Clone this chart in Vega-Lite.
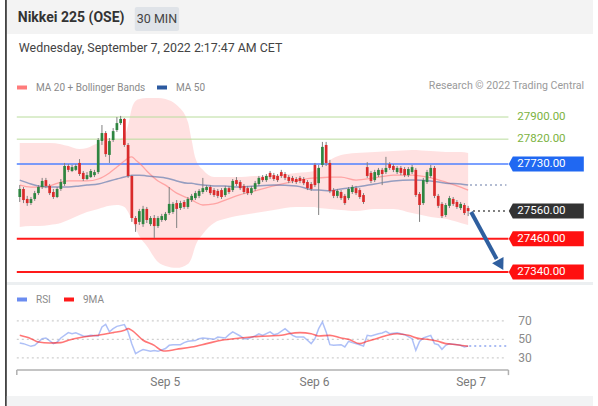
{
"$schema": "https://vega.github.io/schema/vega-lite/v6.json",
"width": 598, "height": 406,
"autosize": {"type": "none"},
"padding": 0,
"background": "white",
"config": {"view": {"stroke": null}, "font": "Roboto"},
"data": {"values": [{}]},
"datasets": {
"candles": [
{"i":0,"o":27611,"h":27654,"l":27593,"c":27640},{"i":1,"o":27640,"h":27647,"l":27589,"c":27600},{"i":2,"o":27604,"h":27615,"l":27579,"c":27589},{"i":3,"o":27589,"h":27611,"l":27582,"c":27604},{"i":4,"o":27604,"h":27633,"l":27597,"c":27625},{"i":5,"o":27625,"h":27654,"l":27618,"c":27647},{"i":6,"o":27647,"h":27680,"l":27640,"c":27669},{"i":7,"o":27672,"h":27680,"l":27643,"c":27651},{"i":8,"o":27651,"h":27658,"l":27618,"c":27625},{"i":9,"o":27629,"h":27640,"l":27604,"c":27611},
{"i":10,"o":27611,"h":27647,"l":27607,"c":27640},{"i":11,"o":27640,"h":27676,"l":27633,"c":27665},{"i":12,"o":27658,"h":27734,"l":27651,"c":27723},{"i":13,"o":27723,"h":27730,"l":27701,"c":27709},{"i":14,"o":27705,"h":27727,"l":27701,"c":27719},{"i":15,"o":27709,"h":27730,"l":27705,"c":27723},{"i":16,"o":27734,"h":27748,"l":27687,"c":27694},{"i":17,"o":27698,"h":27705,"l":27669,"c":27676},{"i":18,"o":27676,"h":27701,"l":27672,"c":27690},{"i":19,"o":27683,"h":27712,"l":27680,"c":27705},
{"i":20,"o":27690,"h":27709,"l":27683,"c":27701},{"i":21,"o":27701,"h":27824,"l":27694,"c":27817},{"i":22,"o":27813,"h":27871,"l":27799,"c":27842},{"i":23,"o":27842,"h":27849,"l":27756,"c":27766},{"i":24,"o":27763,"h":27824,"l":27734,"c":27813},{"i":25,"o":27817,"h":27860,"l":27810,"c":27849},{"i":26,"o":27853,"h":27900,"l":27846,"c":27878},{"i":27,"o":27878,"h":27904,"l":27871,"c":27893},{"i":28,"o":27893,"h":27896,"l":27792,"c":27799},{"i":29,"o":27799,"h":27806,"l":27680,"c":27687},
{"i":30,"o":27687,"h":27690,"l":27521,"c":27535},{"i":31,"o":27535,"h":27542,"l":27485,"c":27513},{"i":32,"o":27521,"h":27568,"l":27510,"c":27560},{"i":33,"o":27513,"h":27579,"l":27503,"c":27568},{"i":34,"o":27568,"h":27575,"l":27517,"c":27528},{"i":35,"o":27513,"h":27542,"l":27506,"c":27535},{"i":36,"o":27535,"h":27546,"l":27463,"c":27506},{"i":37,"o":27506,"h":27542,"l":27499,"c":27535},{"i":38,"o":27528,"h":27550,"l":27521,"c":27542},{"i":39,"o":27528,"h":27557,"l":27524,"c":27550},
{"i":40,"o":27553,"h":27647,"l":27546,"c":27586},{"i":41,"o":27557,"h":27593,"l":27550,"c":27586},{"i":42,"o":27589,"h":27600,"l":27499,"c":27568},{"i":43,"o":27571,"h":27597,"l":27564,"c":27589},{"i":44,"o":27593,"h":27600,"l":27568,"c":27575},{"i":45,"o":27575,"h":27611,"l":27568,"c":27604},{"i":46,"o":27600,"h":27622,"l":27593,"c":27615},{"i":47,"o":27607,"h":27633,"l":27600,"c":27625},{"i":48,"o":27615,"h":27640,"l":27607,"c":27633},{"i":49,"o":27629,"h":27680,"l":27622,"c":27643},
{"i":50,"o":27636,"h":27654,"l":27629,"c":27647},{"i":51,"o":27647,"h":27654,"l":27618,"c":27625},{"i":52,"o":27636,"h":27643,"l":27611,"c":27618},{"i":53,"o":27633,"h":27640,"l":27607,"c":27615},{"i":54,"o":27636,"h":27643,"l":27604,"c":27611},{"i":55,"o":27618,"h":27651,"l":27611,"c":27643},{"i":56,"o":27643,"h":27651,"l":27622,"c":27629},{"i":57,"o":27636,"h":27676,"l":27629,"c":27669},{"i":58,"o":27672,"h":27683,"l":27651,"c":27658},{"i":59,"o":27665,"h":27672,"l":27636,"c":27643},
{"i":60,"o":27651,"h":27658,"l":27622,"c":27629},{"i":61,"o":27643,"h":27651,"l":27618,"c":27625},{"i":62,"o":27625,"h":27651,"l":27618,"c":27643},{"i":63,"o":27640,"h":27669,"l":27633,"c":27661},{"i":64,"o":27658,"h":27687,"l":27651,"c":27680},{"i":65,"o":27683,"h":27690,"l":27665,"c":27672},{"i":66,"o":27672,"h":27694,"l":27665,"c":27687},{"i":67,"o":27698,"h":27705,"l":27676,"c":27683},{"i":68,"o":27690,"h":27698,"l":27669,"c":27676},{"i":69,"o":27687,"h":27694,"l":27665,"c":27672},
{"i":70,"o":27701,"h":27709,"l":27680,"c":27687},{"i":71,"o":27694,"h":27701,"l":27672,"c":27680},{"i":72,"o":27683,"h":27690,"l":27661,"c":27669},{"i":73,"o":27680,"h":27687,"l":27661,"c":27669},{"i":74,"o":27676,"h":27683,"l":27658,"c":27665},{"i":75,"o":27680,"h":27687,"l":27661,"c":27669},{"i":76,"o":27676,"h":27683,"l":27654,"c":27661},{"i":77,"o":27665,"h":27672,"l":27636,"c":27643},{"i":78,"o":27658,"h":27665,"l":27633,"c":27640},{"i":79,"o":27727,"h":27734,"l":27647,"c":27654},
{"i":80,"o":27661,"h":27727,"l":27546,"c":27716},{"i":81,"o":27727,"h":27810,"l":27719,"c":27792},{"i":82,"o":27799,"h":27810,"l":27723,"c":27734},{"i":83,"o":27734,"h":27745,"l":27625,"c":27633},{"i":84,"o":27636,"h":27643,"l":27607,"c":27615},{"i":85,"o":27615,"h":27640,"l":27607,"c":27633},{"i":86,"o":27629,"h":27636,"l":27600,"c":27607},{"i":87,"o":27615,"h":27622,"l":27582,"c":27589},{"i":88,"o":27607,"h":27647,"l":27600,"c":27640},{"i":89,"o":27629,"h":27654,"l":27622,"c":27647},
{"i":90,"o":27643,"h":27651,"l":27618,"c":27625},{"i":91,"o":27636,"h":27643,"l":27604,"c":27611},{"i":92,"o":27618,"h":27625,"l":27586,"c":27593},{"i":93,"o":27719,"h":27737,"l":27680,"c":27687},{"i":94,"o":27698,"h":27705,"l":27661,"c":27669},{"i":95,"o":27672,"h":27709,"l":27665,"c":27701},{"i":96,"o":27690,"h":27716,"l":27683,"c":27709},{"i":97,"o":27709,"h":27716,"l":27654,"c":27694},{"i":98,"o":27701,"h":27756,"l":27694,"c":27716},{"i":99,"o":27730,"h":27737,"l":27709,"c":27716},
{"i":100,"o":27723,"h":27730,"l":27701,"c":27709},{"i":101,"o":27701,"h":27723,"l":27694,"c":27716},{"i":102,"o":27716,"h":27723,"l":27690,"c":27698},{"i":103,"o":27712,"h":27719,"l":27683,"c":27690},{"i":104,"o":27690,"h":27719,"l":27683,"c":27712},{"i":105,"o":27701,"h":27727,"l":27694,"c":27719},{"i":106,"o":27709,"h":27716,"l":27611,"c":27618},{"i":107,"o":27622,"h":27629,"l":27521,"c":27582},{"i":108,"o":27589,"h":27680,"l":27582,"c":27672},{"i":109,"o":27665,"h":27709,"l":27658,"c":27701},
{"i":110,"o":27687,"h":27727,"l":27680,"c":27716},{"i":111,"o":27716,"h":27723,"l":27607,"c":27615},{"i":112,"o":27615,"h":27622,"l":27571,"c":27579},{"i":113,"o":27586,"h":27593,"l":27535,"c":27542},{"i":114,"o":27546,"h":27589,"l":27539,"c":27582},{"i":115,"o":27579,"h":27615,"l":27571,"c":27607},{"i":116,"o":27604,"h":27611,"l":27579,"c":27586},{"i":117,"o":27593,"h":27600,"l":27568,"c":27575},{"i":118,"o":27571,"h":27593,"l":27564,"c":27586},{"i":119,"o":27582,"h":27589,"l":27546,"c":27553},
{"i":120,"o":27571,"h":27579,"l":27542,"c":27560}
],
"bands": [
{"i":0,"up":27806,"lo":27503,"ma20":27654,"ma50":27672},{"i":3,"up":27806,"lo":27506,"ma20":27647,"ma50":27658},{"i":5,"up":27806,"lo":27506,"ma20":27647,"ma50":27651},{"i":8,"up":27806,"lo":27510,"ma20":27651,"ma50":27647},{"i":11,"up":27802,"lo":27517,"ma20":27665,"ma50":27647},{"i":13,"up":27795,"lo":27528,"ma20":27669,"ma50":27647},{"i":16,"up":27784,"lo":27546,"ma20":27669,"ma50":27651},{"i":18,"up":27788,"lo":27557,"ma20":27669,"ma50":27654},{"i":21,"up":27806,"lo":27568,"ma20":27676,"ma50":27658},{"i":24,"up":27817,"lo":27579,"ma20":27698,"ma50":27669},
{"i":26,"up":27817,"lo":27582,"ma20":27719,"ma50":27676},{"i":28,"up":27831,"lo":27575,"ma20":27741,"ma50":27683},{"i":29,"up":27871,"lo":27557,"ma20":27752,"ma50":27687},{"i":30,"up":27932,"lo":27528,"ma20":27756,"ma50":27690},{"i":31,"up":27958,"lo":27499,"ma20":27745,"ma50":27690},{"i":32,"up":27965,"lo":27470,"ma20":27734,"ma50":27690},{"i":34,"up":27969,"lo":27434,"ma20":27705,"ma50":27687},{"i":37,"up":27969,"lo":27376,"ma20":27669,"ma50":27683},{"i":39,"up":27965,"lo":27362,"ma20":27654,"ma50":27680},{"i":42,"up":27943,"lo":27355,"ma20":27625,"ma50":27669},
{"i":45,"up":27882,"lo":27369,"ma20":27607,"ma50":27661},{"i":46,"up":27817,"lo":27391,"ma20":27600,"ma50":27661},{"i":47,"up":27752,"lo":27434,"ma20":27593,"ma50":27658},{"i":49,"up":27709,"lo":27477,"ma20":27582,"ma50":27654},{"i":52,"up":27683,"lo":27517,"ma20":27586,"ma50":27651},{"i":55,"up":27683,"lo":27532,"ma20":27600,"ma50":27651},{"i":58,"up":27683,"lo":27542,"ma20":27615,"ma50":27647},{"i":63,"up":27687,"lo":27553,"ma20":27633,"ma50":27651},{"i":68,"up":27690,"lo":27564,"ma20":27651,"ma50":27654},{"i":74,"up":27698,"lo":27575,"ma20":27669,"ma50":27651},
{"i":79,"up":27705,"lo":27575,"ma20":27680,"ma50":27636},{"i":80,"up":27716,"lo":27571,"ma20":27680,"ma50":27636},{"i":83,"up":27745,"lo":27568,"ma20":27683,"ma50":27633},{"i":86,"up":27763,"lo":27564,"ma20":27683,"ma50":27640},{"i":90,"up":27770,"lo":27560,"ma20":27672,"ma50":27647},{"i":95,"up":27774,"lo":27568,"ma20":27680,"ma50":27658},{"i":100,"up":27777,"lo":27568,"ma20":27690,"ma50":27669},{"i":105,"up":27781,"lo":27553,"ma20":27690,"ma50":27672},{"i":110,"up":27777,"lo":27539,"ma20":27680,"ma50":27669},{"i":114,"up":27774,"lo":27532,"ma20":27665,"ma50":27661},
{"i":118,"up":27774,"lo":27517,"ma20":27647,"ma50":27658},{"i":120,"up":27770,"lo":27510,"ma20":27636,"ma50":27654}
],
"levels": [
{"level":27900,"label":"27900.00","kind":"target"},{"level":27820,"label":"27820.00","kind":"target"},{"level":27730,"label":"27730.00","kind":"resistance"},{"level":27560,"label":"27560.00","kind":"last"},{"level":27460,"label":"27460.00","kind":"support"},{"level":27340,"label":"27340.00","kind":"support"}
],
"rsi": [
{"i":0,"v":46},{"i":1,"v":45.3},{"i":3,"v":42.4},{"i":4,"v":43.5},{"i":6,"v":50.7},{"i":7,"v":51.4},{"i":9,"v":45.3},{"i":10,"v":47},{"i":11,"v":51.4},{"i":13,"v":57.2},{"i":14,"v":56},{"i":15,"v":57},{"i":17,"v":53.6},{"i":18,"v":53.2},{"i":19,"v":54.3},{"i":21,"v":53.6},{"i":22,"v":63.3},{"i":23,"v":66.2},{"i":24,"v":58},{"i":25,"v":61.5},{"i":26,"v":64},{"i":28,"v":65.9},{"i":29,"v":58},{"i":30,"v":45},{"i":31,"v":34.5},{"i":32,"v":37},{"i":33,"v":39},{"i":35,"v":37},{"i":36,"v":38},{"i":37,"v":37},{"i":39,"v":40},{"i":40,"v":43.5},{"i":41,"v":44.2},{"i":43,"v":44.2},{"i":44,"v":46.4},{"i":45,"v":47.8},{"i":47,"v":48.6},{"i":48,"v":50.7},{"i":49,"v":51.4},{"i":51,"v":50.7},{"i":52,"v":50},{"i":53,"v":52.5},{"i":55,"v":51.4},{"i":56,"v":55},{"i":57,"v":58},{"i":59,"v":53.6},{"i":60,"v":50.7},{"i":61,"v":50.7},{"i":63,"v":53.6},{"i":64,"v":56},{"i":65,"v":54.3},{"i":67,"v":58},{"i":68,"v":55},{"i":69,"v":56},{"i":71,"v":61.5},{"i":72,"v":58},{"i":73,"v":54.3},{"i":74,"v":52.5},{"i":76,"v":52.5},{"i":77,"v":49},{"i":78,"v":45.3},{"i":79,"v":50.7},{"i":80,"v":61.5},{"i":81,"v":68.7},{"i":82,"v":58},{"i":83,"v":44.2},{"i":84,"v":43.5},{"i":86,"v":44.2},{"i":87,"v":41.7},{"i":88,"v":47.8},{"i":89,"v":46.4},{"i":91,"v":44.2},{"i":92,"v":42.8},{"i":93,"v":54.3},{"i":94,"v":53.6},{"i":96,"v":56},{"i":97,"v":56.8},{"i":98,"v":58.6},{"i":99,"v":56},{"i":101,"v":57.2},{"i":102,"v":56},{"i":103,"v":55},{"i":105,"v":50.7},{"i":106,"v":38},{"i":107,"v":47.8},{"i":108,"v":51.4},{"i":110,"v":54.3},{"i":111,"v":45.3},{"i":112,"v":44.2},{"i":113,"v":39.2},{"i":114,"v":43.5},{"i":115,"v":45.3},{"i":117,"v":44.2},{"i":118,"v":43.5},{"i":119,"v":41.7},{"i":120,"v":42.8}
],
"ma9": [
{"i":0,"v":54.3},{"i":3,"v":50.7},{"i":5,"v":47},{"i":8,"v":46},{"i":11,"v":46.4},{"i":13,"v":49},{"i":17,"v":52.5},{"i":21,"v":54.3},{"i":25,"v":57.2},{"i":28,"v":59.7},{"i":29,"v":61.5},{"i":30,"v":59.7},{"i":33,"v":49},{"i":36,"v":43.5},{"i":38,"v":38},{"i":39,"v":37.4},{"i":42,"v":39.2},{"i":46,"v":41.7},{"i":50,"v":45.3},{"i":54,"v":49},{"i":59,"v":51.4},{"i":64,"v":53.2},{"i":70,"v":54.3},{"i":72,"v":56},{"i":75,"v":57.2},{"i":78,"v":56},{"i":80,"v":53.6},{"i":83,"v":54.3},{"i":86,"v":51.4},{"i":88,"v":50},{"i":91,"v":45.3},{"i":93,"v":47.8},{"i":96,"v":51.4},{"i":99,"v":55},{"i":101,"v":56},{"i":104,"v":54.3},{"i":107,"v":50.7},{"i":109,"v":50},{"i":112,"v":47.8},{"i":114,"v":45.3},{"i":117,"v":44.2},{"i":120,"v":42.4}
],
"rsiLevels": [{"v":70},{"v":50},{"v":30}],
"days": [{"i":38.95,"label":"Sep 5"},{"i":78.9,"label":"Sep 6"},{"i":120.8,"label":"Sep 7"}]
},
"resolve": {"scale": {"y": "independent", "color": "independent"}},
"layer": [
{
"layer": [
{"mark": {"type": "rect", "color": "#f3f3f3"},
 "encoding": {"x": {"datum": -3.947, "type": "quantitative", "scale": {"domain": [-3.947, 153.42], "nice": false, "zero": false}, "axis": null}, "x2": {"datum": 153.42},
  "y": {"datum": 28322.7, "type": "quantitative", "scale": {"domain": [26855.9, 28322.7], "nice": false, "zero": false}, "axis": null}, "y2": {"datum": 28199.9}}},
{"mark": {"type": "rect", "color": "#dfe3e8", "cornerRadius": 2},
 "encoding": {"x": {"datum": 30.79, "type": "quantitative", "scale": {"domain": [-3.947, 153.42], "nice": false, "zero": false}, "axis": null}, "x2": {"datum": 42.63},
  "y": {"datum": 28297.4, "type": "quantitative", "scale": {"domain": [26855.9, 28322.7], "nice": false, "zero": false}, "axis": null}, "y2": {"datum": 28210.7}}},
{"mark": {"type": "text", "text": "Nikkei 225 (OSE)", "fontSize": 14, "fontWeight": "bold", "color": "#333333", "align": "left", "baseline": "middle"},
 "encoding": {"x": {"datum": -0.526, "type": "quantitative", "scale": {"domain": [-3.947, 153.42], "nice": false, "zero": false}, "axis": null},
  "y": {"datum": 28255.9, "type": "quantitative", "scale": {"domain": [26855.9, 28322.7], "nice": false, "zero": false}, "axis": null}}},
{"mark": {"type": "text", "text": "30 MIN", "fontSize": 12.5, "color": "#444444", "align": "center", "baseline": "middle"},
 "encoding": {"x": {"datum": 36.71, "type": "quantitative", "scale": {"domain": [-3.947, 153.42], "nice": false, "zero": false}, "axis": null},
  "y": {"datum": 28254, "type": "quantitative", "scale": {"domain": [26855.9, 28322.7], "nice": false, "zero": false}, "axis": null}}},
{"mark": {"type": "text", "text": "Wednesday, September 7, 2022 2:17:47 AM CET", "fontSize": 12.4, "color": "#444444", "align": "left", "baseline": "middle"},
 "encoding": {"x": {"datum": -0.263, "type": "quantitative", "scale": {"domain": [-3.947, 153.42], "nice": false, "zero": false}, "axis": null},
  "y": {"datum": 28149.3, "type": "quantitative", "scale": {"domain": [26855.9, 28322.7], "nice": false, "zero": false}, "axis": null}}},
{"mark": {"type": "text", "text": "Research © 2022 Trading Central", "fontSize": 10.6, "color": "#9a9a9a", "align": "right", "baseline": "middle"},
 "encoding": {"x": {"datum": 151.05, "type": "quantitative", "scale": {"domain": [-3.947, 153.42], "nice": false, "zero": false}, "axis": null},
  "y": {"datum": 28012, "type": "quantitative", "scale": {"domain": [26855.9, 28322.7], "nice": false, "zero": false}, "axis": null}}},
{"data": {"name": "bands"}, "mark": {"type": "area", "color": "#ffdede", "opacity": 0.9, "interpolate": "monotone"},
 "encoding": {"x": {"field": "i", "type": "quantitative", "scale": {"domain": [-3.947, 153.42], "nice": false, "zero": false}, "axis": null},
  "y": {"field": "up", "type": "quantitative", "scale": {"domain": [26855.9, 28322.7], "nice": false, "zero": false}, "axis": null}, "y2": {"field": "lo"}}},
{"data": {"name": "levels"}, "transform": [{"filter": "datum.kind === 'target'"}], "mark": {"type": "rule", "color": "#b9dc9c", "strokeWidth": 1},
 "encoding": {"x": {"datum": -0.79, "type": "quantitative", "scale": {"domain": [-3.947, 153.42], "nice": false, "zero": false}, "axis": null}, "x2": {"datum": 130.79},
  "y": {"field": "level", "type": "quantitative", "scale": {"domain": [26855.9, 28322.7], "nice": false, "zero": false}, "axis": null}}},
{"data": {"name": "levels"}, "transform": [{"filter": "datum.kind === 'resistance'"}], "mark": {"type": "rule", "color": "#4f80ff", "strokeWidth": 1.6},
 "encoding": {"x": {"datum": -0.79, "type": "quantitative", "scale": {"domain": [-3.947, 153.42], "nice": false, "zero": false}, "axis": null}, "x2": {"datum": 130.79},
  "y": {"field": "level", "type": "quantitative", "scale": {"domain": [26855.9, 28322.7], "nice": false, "zero": false}, "axis": null}}},
{"data": {"name": "levels"}, "transform": [{"filter": "datum.kind === 'support'"}], "mark": {"type": "rule", "color": "#ff1a1a", "strokeWidth": 2},
 "encoding": {"x": {"datum": -0.79, "type": "quantitative", "scale": {"domain": [-3.947, 153.42], "nice": false, "zero": false}, "axis": null}, "x2": {"datum": 130.79},
  "y": {"field": "level", "type": "quantitative", "scale": {"domain": [26855.9, 28322.7], "nice": false, "zero": false}, "axis": null}}},
{"data": {"name": "bands"}, "mark": {"type": "line", "strokeWidth": 1.3, "opacity": 0.6, "interpolate": "monotone"},
 "encoding": {"x": {"field": "i", "type": "quantitative", "scale": {"domain": [-3.947, 153.42], "nice": false, "zero": false}, "axis": null},
  "y": {"field": "ma20", "type": "quantitative", "scale": {"domain": [26855.9, 28322.7], "nice": false, "zero": false}, "axis": null},
  "color": {"datum": "MA 20 + Bollinger Bands", "type": "nominal", "scale": {"domain": ["MA 20 + Bollinger Bands", "MA 50"], "range": ["#ff7b7b", "#2c5aa0"]},
   "legend": {"orient": "none", "legendX": 15, "legendY": 80.5, "direction": "horizontal", "title": null, "symbolType": "M-1,0L1,0", "symbolSize": 100, "symbolStrokeWidth": 4, "symbolOpacity": 1, "labelFontSize": 10, "labelColor": "#8a8a8a", "labelFont": "Roboto", "labelOffset": 7, "columnPadding": 3, "padding": 0}}}},
{"data": {"name": "bands"}, "mark": {"type": "line", "strokeWidth": 1.5, "opacity": 0.5, "interpolate": "monotone"},
 "encoding": {"x": {"field": "i", "type": "quantitative", "scale": {"domain": [-3.947, 153.42], "nice": false, "zero": false}, "axis": null},
  "y": {"field": "ma50", "type": "quantitative", "scale": {"domain": [26855.9, 28322.7], "nice": false, "zero": false}, "axis": null},
  "color": {"datum": "MA 50", "type": "nominal", "scale": {"domain": ["MA 20 + Bollinger Bands", "MA 50"], "range": ["#ff7b7b", "#2c5aa0"]},
   "legend": {"orient": "none", "legendX": 15, "legendY": 80.5, "direction": "horizontal", "title": null, "symbolType": "M-1,0L1,0", "symbolSize": 100, "symbolStrokeWidth": 4, "symbolOpacity": 1, "labelFontSize": 10, "labelColor": "#8a8a8a", "labelFont": "Roboto", "labelOffset": 7, "columnPadding": 3, "padding": 0}}}},
{"data": {"name": "candles"}, "mark": {"type": "rule", "color": "#808080", "strokeWidth": 1},
 "encoding": {"x": {"field": "i", "type": "quantitative", "scale": {"domain": [-3.947, 153.42], "nice": false, "zero": false}, "axis": null},
  "y": {"field": "l", "type": "quantitative", "scale": {"domain": [26855.9, 28322.7], "nice": false, "zero": false}, "axis": null}, "y2": {"field": "h"}}},
{"data": {"name": "candles"}, "mark": {"type": "bar", "width": 2.7},
 "encoding": {"x": {"field": "i", "type": "quantitative", "scale": {"domain": [-3.947, 153.42], "nice": false, "zero": false}, "axis": null},
  "y": {"field": "o", "type": "quantitative", "scale": {"domain": [26855.9, 28322.7], "nice": false, "zero": false}, "axis": null}, "y2": {"field": "c"},
  "color": {"condition": {"test": "datum.c >= datum.o", "value": "#2e8540"}, "value": "#d92b2b"}}},
{"mark": {"type": "rule", "color": "#9aa6c4", "strokeWidth": 1.5, "strokeDash": [2, 3]},
 "encoding": {"x": {"datum": 120.5, "type": "quantitative", "scale": {"domain": [-3.947, 153.42], "nice": false, "zero": false}, "axis": null}, "x2": {"datum": 130.26},
  "y": {"datum": 27654, "type": "quantitative", "scale": {"domain": [26855.9, 28322.7], "nice": false, "zero": false}, "axis": null}}},
{"mark": {"type": "rule", "color": "#555555", "strokeWidth": 1.5, "strokeDash": [2, 3]},
 "encoding": {"x": {"datum": 121.3, "type": "quantitative", "scale": {"domain": [-3.947, 153.42], "nice": false, "zero": false}, "axis": null}, "x2": {"datum": 130.26},
  "y": {"datum": 27560, "type": "quantitative", "scale": {"domain": [26855.9, 28322.7], "nice": false, "zero": false}, "axis": null}}},
{"data": {"name": "levels"}, "transform": [{"filter": "datum.kind !== 'target'"}],
 "mark": {"type": "point", "shape": "M-1,0L-0.893,-0.2L1,-0.2L1,0.2L-0.893,0.2Z", "size": 5625, "filled": true, "opacity": 1, "strokeWidth": 0},
 "encoding": {"x": {"datum": 140.92, "type": "quantitative", "scale": {"domain": [-3.947, 153.42], "nice": false, "zero": false}, "axis": null},
  "y": {"field": "level", "type": "quantitative", "scale": {"domain": [26855.9, 28322.7], "nice": false, "zero": false}, "axis": null},
  "fill": {"field": "kind", "type": "nominal", "scale": {"domain": ["resistance", "last", "support"], "range": ["#2068f2", "#333333", "#ff1010"]}, "legend": null}}},
{"data": {"name": "levels"},
 "mark": {"type": "text", "fontSize": 11.5, "align": "left", "baseline": "middle"},
 "encoding": {"x": {"datum": 133.16, "type": "quantitative", "scale": {"domain": [-3.947, 153.42], "nice": false, "zero": false}, "axis": null},
  "y": {"field": "level", "type": "quantitative", "scale": {"domain": [26855.9, 28322.7], "nice": false, "zero": false}, "axis": null},
  "text": {"field": "label"},
  "color": {"condition": {"test": "datum.kind === 'target'", "value": "#7cb342"}, "value": "#ffffff"}}},
{"mark": {"type": "rule", "color": "#2f5f9f", "strokeWidth": 4},
 "encoding": {"x": {"datum": 120.8, "type": "quantitative", "scale": {"domain": [-3.947, 153.42], "nice": false, "zero": false}, "axis": null}, "x2": {"datum": 127.63},
  "y": {"datum": 27557, "type": "quantitative", "scale": {"domain": [26855.9, 28322.7], "nice": false, "zero": false}, "axis": null}, "y2": {"datum": 27387}}},
{"mark": {"type": "point", "shape": "triangle-down", "size": 170, "filled": true, "opacity": 1, "color": "#2f5f9f", "angle": -29},
 "encoding": {"x": {"datum": 128.68, "type": "quantitative", "scale": {"domain": [-3.947, 153.42], "nice": false, "zero": false}, "axis": null},
  "y": {"datum": 27365.3, "type": "quantitative", "scale": {"domain": [26855.9, 28322.7], "nice": false, "zero": false}, "axis": null}}},
{"mark": {"type": "rect", "color": "#eceff1"},
 "encoding": {"x": {"datum": -3.947, "type": "quantitative", "scale": {"domain": [-3.947, 153.42], "nice": false, "zero": false}, "axis": null}, "x2": {"datum": 153.42},
  "y": {"datum": 27303.9, "type": "quantitative", "scale": {"domain": [26855.9, 28322.7], "nice": false, "zero": false}, "axis": null}, "y2": {"datum": 27293.1}}},
{"mark": {"type": "rect", "color": "#444444"},
 "encoding": {"x": {"datum": -3.947, "type": "quantitative", "scale": {"domain": [-3.947, 153.42], "nice": false, "zero": false}, "axis": null}, "x2": {"datum": -3.45},
  "y": {"datum": 28322.7, "type": "quantitative", "scale": {"domain": [26855.9, 28322.7], "nice": false, "zero": false}, "axis": null}, "y2": {"datum": 26855.9}}}
]
},
{
"layer": [
{"mark": {"type": "rect", "color": "#f2f3f4"},
 "encoding": {"x": {"datum": -3.45, "type": "quantitative", "scale": {"domain": [-3.947, 153.42], "nice": false, "zero": false}, "axis": null}, "x2": {"datum": 153.42},
  "y": {"datum": -11.3, "type": "quantitative", "scale": {"domain": [-22.1, 416.8], "nice": false, "zero": false}, "axis": null}, "y2": {"datum": -22.1}}},
{"data": {"name": "rsiLevels"}, "mark": {"type": "rule", "color": "#cfcfcf", "strokeWidth": 1.2, "strokeDash": [2, 3]},
 "encoding": {"x": {"datum": -0.79, "type": "quantitative", "scale": {"domain": [-3.947, 153.42], "nice": false, "zero": false}, "axis": null}, "x2": {"datum": 130.26},
  "y": {"field": "v", "type": "quantitative", "scale": {"domain": [-22.1, 416.8], "nice": false, "zero": false}, "axis": null}}},
{"data": {"name": "rsiLevels"}, "mark": {"type": "text", "fontSize": 12, "color": "#8a8a8a", "align": "left", "baseline": "middle"},
 "encoding": {"x": {"datum": 133.4, "type": "quantitative", "scale": {"domain": [-3.947, 153.42], "nice": false, "zero": false}, "axis": null},
  "y": {"field": "v", "type": "quantitative", "scale": {"domain": [-22.1, 416.8], "nice": false, "zero": false}, "axis": null},
  "text": {"field": "v"}}},
{"data": {"name": "rsi"}, "mark": {"type": "line", "strokeWidth": 1.5, "opacity": 0.55},
 "encoding": {"x": {"field": "i", "type": "quantitative", "scale": {"domain": [-3.947, 153.42], "nice": false, "zero": false}, "axis": null},
  "y": {"field": "v", "type": "quantitative", "scale": {"domain": [-22.1, 416.8], "nice": false, "zero": false}, "axis": null},
  "color": {"datum": "RSI", "type": "nominal", "scale": {"domain": ["RSI", "9MA"], "range": ["#6b8cf0", "#ff1a1a"]},
   "legend": {"orient": "none", "legendX": 15, "legendY": 292.5, "direction": "horizontal", "title": null, "symbolType": "M-1,0L1,0", "symbolSize": 100, "symbolStrokeWidth": 4, "symbolOpacity": 1, "labelFontSize": 10, "labelColor": "#8a8a8a", "labelFont": "Roboto", "labelOffset": 7, "columnPadding": 5, "padding": 0}}}},
{"data": {"name": "ma9"}, "mark": {"type": "line", "strokeWidth": 1.6, "opacity": 0.6, "interpolate": "monotone"},
 "encoding": {"x": {"field": "i", "type": "quantitative", "scale": {"domain": [-3.947, 153.42], "nice": false, "zero": false}, "axis": null},
  "y": {"field": "v", "type": "quantitative", "scale": {"domain": [-22.1, 416.8], "nice": false, "zero": false}, "axis": null},
  "color": {"datum": "9MA", "type": "nominal", "scale": {"domain": ["RSI", "9MA"], "range": ["#6b8cf0", "#ff1a1a"]},
   "legend": {"orient": "none", "legendX": 15, "legendY": 292.5, "direction": "horizontal", "title": null, "symbolType": "M-1,0L1,0", "symbolSize": 100, "symbolStrokeWidth": 4, "symbolOpacity": 1, "labelFontSize": 10, "labelColor": "#8a8a8a", "labelFont": "Roboto", "labelOffset": 7, "columnPadding": 5, "padding": 0}}}},
{"mark": {"type": "rule", "color": "#8ea6f0", "strokeWidth": 1.5, "strokeDash": [2, 3]},
 "encoding": {"x": {"datum": 120.3, "type": "quantitative", "scale": {"domain": [-3.947, 153.42], "nice": false, "zero": false}, "axis": null}, "x2": {"datum": 130.26},
  "y": {"datum": 42.8, "type": "quantitative", "scale": {"domain": [-22.1, 416.8], "nice": false, "zero": false}, "axis": null}}},
{"mark": {"type": "rule", "color": "#b0b0b0", "strokeWidth": 1.5},
 "encoding": {"x": {"datum": -0.79, "type": "quantitative", "scale": {"domain": [-3.947, 153.42], "nice": false, "zero": false}, "axis": null}, "x2": {"datum": 130.79},
  "y": {"datum": 16.8, "type": "quantitative", "scale": {"domain": [-22.1, 416.8], "nice": false, "zero": false}, "axis": null}}},
{"mark": {"type": "rule", "color": "#b0b0b0", "strokeWidth": 1.5},
 "encoding": {"x": {"datum": -0.79, "type": "quantitative", "scale": {"domain": [-3.947, 153.42], "nice": false, "zero": false}, "axis": null},
  "y": {"datum": 16.8, "type": "quantitative", "scale": {"domain": [-22.1, 416.8], "nice": false, "zero": false}, "axis": null}, "y2": {"datum": 11.3}}},
{"mark": {"type": "rule", "color": "#b0b0b0", "strokeWidth": 1.5},
 "encoding": {"x": {"datum": 130.79, "type": "quantitative", "scale": {"domain": [-3.947, 153.42], "nice": false, "zero": false}, "axis": null},
  "y": {"datum": 16.8, "type": "quantitative", "scale": {"domain": [-22.1, 416.8], "nice": false, "zero": false}, "axis": null}, "y2": {"datum": 11.3}}},
{"data": {"name": "days"}, "mark": {"type": "text", "fontSize": 12, "color": "#7a7a7a", "align": "center", "baseline": "middle"},
 "encoding": {"x": {"field": "i", "type": "quantitative", "scale": {"domain": [-3.947, 153.42], "nice": false, "zero": false}, "axis": null},
  "y": {"datum": 3.8, "type": "quantitative", "scale": {"domain": [-22.1, 416.8], "nice": false, "zero": false}, "axis": null},
  "text": {"field": "label"}}}
]
}
]
}
